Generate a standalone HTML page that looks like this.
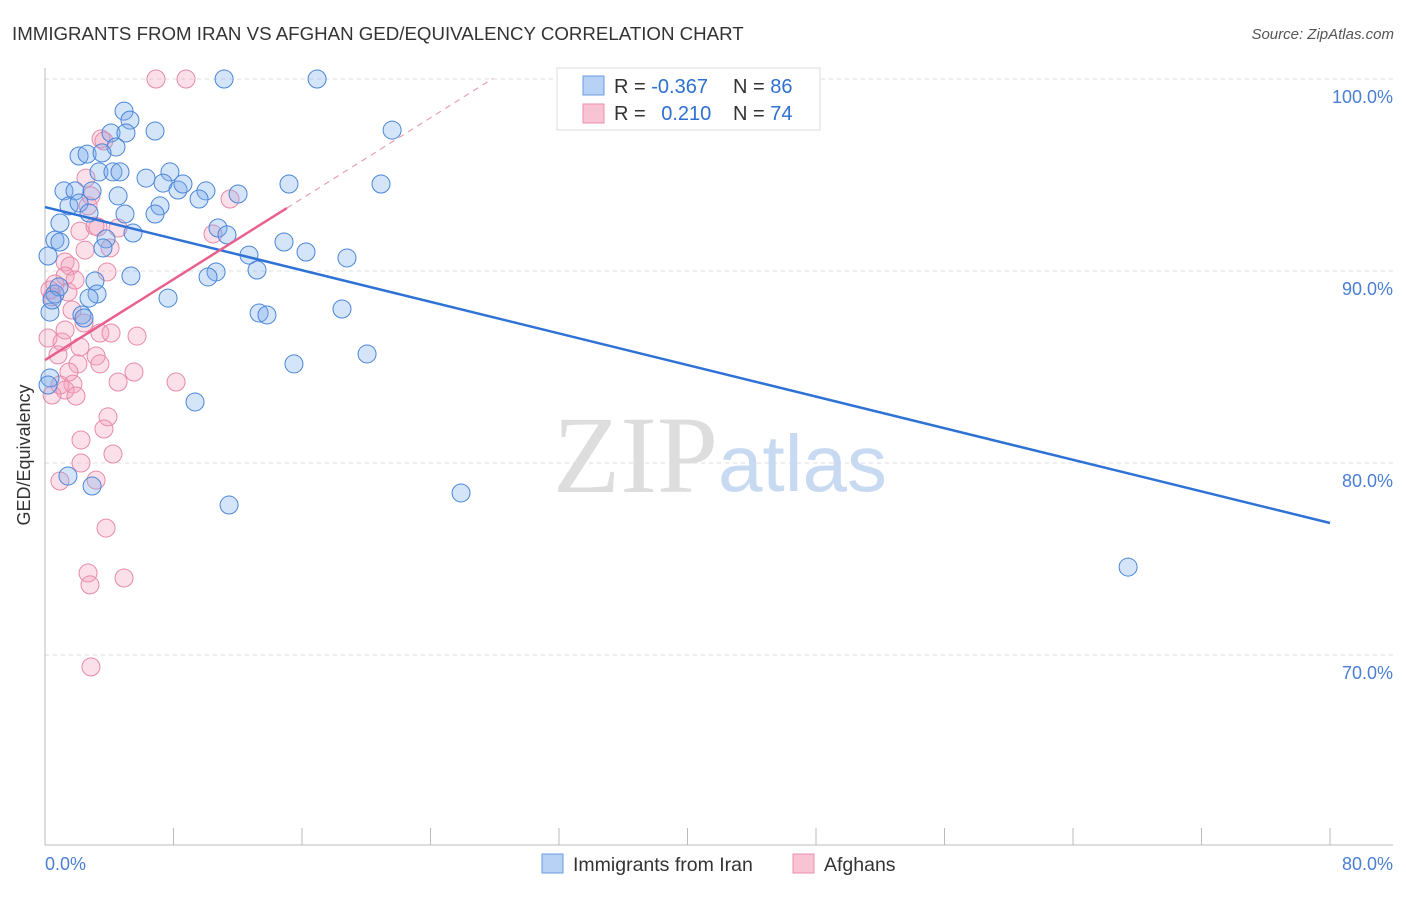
<!DOCTYPE html>
<html><head><meta charset="utf-8"><style>
body{margin:0;background:#fff;font-family:"Liberation Sans",sans-serif}
svg text{font-family:"Liberation Sans",sans-serif}
</style></head><body>
<svg id="chart" width="1406" height="892">
<text x="12" y="40" font-size="18.7" fill="#333">IMMIGRANTS FROM IRAN VS AFGHAN GED/EQUIVALENCY CORRELATION CHART</text>
<text x="1394" y="39" font-size="15" fill="#555" font-style="italic" text-anchor="end">Source: ZipAtlas.com</text>
<g id="grid"></g>
<text x="553" y="492" font-size="110" fill="#ddd" style="font-family:'Liberation Serif',serif">ZIP</text>
<text x="718" y="491" font-size="80" fill="#c8daf2">atlas</text>
<g id="pts"></g>
<g id="trends"></g>
<text x="30" y="455" font-size="18" fill="#333" text-anchor="middle" transform="rotate(-90 30 455)">GED/Equivalency</text>
<text x="45" y="870" font-size="18" fill="#4a7fd4">0.0%</text>
<text x="1393" y="870" font-size="18" fill="#4a7fd4" text-anchor="end">80.0%</text>
<g>
<rect x="557" y="68" width="263" height="62" fill="#fff" stroke="#ddd"/>
<rect x="583" y="76" width="21" height="19" fill="#b8d2f5" stroke="#6a9be0"/>
<rect x="583" y="104" width="21" height="19" fill="#f8c4d4" stroke="#eb8fac"/>
<text x="614" y="93" font-size="20" fill="#333">R = <tspan fill="#2f6fd1">-0.367</tspan></text>
<text x="733" y="93" font-size="20" fill="#333">N = <tspan fill="#2f6fd1">86</tspan></text>
<text x="614" y="120" font-size="20" fill="#333">R = <tspan fill="#2f6fd1" dx="10">0.210</tspan></text>
<text x="733" y="120" font-size="20" fill="#333">N = <tspan fill="#2f6fd1">74</tspan></text>
</g>
<g>
<rect x="542" y="854" width="21" height="19" fill="#b8d2f5" stroke="#6a9be0"/>
<text x="573" y="871" font-size="19.5" fill="#333">Immigrants from Iran</text>
<rect x="793" y="854" width="21" height="19" fill="#f8c4d4" stroke="#eb8fac"/>
<text x="824" y="871" font-size="19.5" fill="#333">Afghans</text>
</g>
</svg>
<script>
const yTicks=[100,90,80,70];
const xTicks=[0,8,16,24,32,40,48,56,64,72,80];
const blueX=[11.15,16.94,4.92,5.29,4.11,5.04,6.85,21.61,4.42,2.12,2.62,3.55,3.36,4.23,4.67,6.29,7.78,7.35,8.28,8.59,10.02,9.59,12.02,15.19,20.92,1.18,1.87,2.93,4.55,1.49,2.12,2.74,7.16,6.85,4.98,10.77,11.33,5.48,3.80,0.93,0.62,0.93,3.61,12.70,14.88,16.25,18.80,5.35,10.65,10.15,13.20,3.11,3.24,2.74,7.66,0.62,0.31,2.30,2.43,13.33,13.82,18.49,20.05,15.50,9.34,0.31,0.19,1.43,2.93,11.46,25.90,67.43,0.19,0.87,0.44];
const blueY=[100,100,98.33,97.86,97.19,97.19,97.29,97.34,96.46,95.99,96.09,96.15,95.16,95.16,95.16,94.84,95.16,94.58,94.22,94.53,94.17,93.75,94.01,94.53,94.53,94.17,94.17,94.17,93.91,93.39,93.54,93.02,93.39,92.97,92.97,92.24,91.88,91.98,91.67,92.50,91.61,91.51,91.20,90.83,91.51,90.99,90.68,89.74,89.95,89.69,90.05,89.48,88.80,88.59,88.59,88.80,87.86,87.71,87.55,87.81,87.71,88.02,85.68,85.16,83.18,84.43,84.06,79.32,78.80,77.81,78.44,74.58,90.78,89.17,88.49];
const pinkX=[6.91,8.78,3.49,3.67,2.55,2.86,2.68,11.52,10.46,2.18,3.30,3.11,4.55,1.25,1.56,1.25,3.86,0.62,1.43,0.44,1.68,2.43,3.42,4.11,5.73,0.19,1.06,2.18,3.18,0.81,2.05,3.42,1.49,1.74,4.55,5.54,8.16,0.93,1.25,1.93,3.92,3.67,2.24,2.24,4.23,0.93,3.18,3.80,2.68,2.80,4.92,2.86,0.31,1.87,4.05,2.49,1.25,0.44];
const pinkY=[100,100,96.88,96.77,94.84,93.91,93.39,93.75,91.93,92.08,92.29,92.34,92.24,90.47,90.26,89.74,89.95,89.32,88.91,88.65,87.97,87.29,86.77,86.77,86.61,86.51,86.30,86.04,85.57,85.63,85.16,85.16,84.74,84.11,84.22,84.74,84.22,84.06,83.80,83.49,82.40,81.77,81.20,80.00,80.47,79.06,79.11,76.61,74.27,73.65,74.01,69.38,89.01,89.53,91.20,91.09,86.93,83.54];
const blueTrend=[93.33,76.875];
const pinkTrend=[85.36,93.28,15.06,27.9];
const sx=v=>45+v*1285/80, sy=v=>79+(100-v)*19.2;
const NS='http://www.w3.org/2000/svg';
const grid=document.getElementById('grid');
function mk(tag,attrs,parent){const e=document.createElementNS(NS,tag);for(const k in attrs)e.setAttribute(k,attrs[k]);parent.appendChild(e);return e;}
yTicks.forEach(t=>{
 const l=mk('line',{x1:45,x2:1393,y1:sy(t),y2:sy(t),stroke:'#ddd','stroke-dasharray':'4,4'},grid);
 
 
 const tx=mk('text',{x:1393,y:sy(t)+24,'font-size':18,fill:'#4a7fd4','text-anchor':'end'},grid);
 tx.textContent=t.toFixed(1)+'%';
 
 
});
mk('line',{x1:45,x2:45,y1:68,y2:845,stroke:'#bbb'},grid);
mk('line',{x1:45,x2:1393,y1:845,y2:845,stroke:'#bbb'},grid);
xTicks.forEach(t=>{const l=mk('line',{x1:sx(t),x2:sx(t),y1:828,y2:845,stroke:'#bbb'},grid);
 
 });
const pts=document.getElementById('pts');
pinkX.forEach((x,i)=>{const c=mk('circle',{cx:sx(x),cy:sy(pinkY[i]),r:9,fill:'rgba(244,160,186,0.32)',stroke:'#e88aa8','stroke-width':1},pts);
 
 });
blueX.forEach((x,i)=>{const c=mk('circle',{cx:sx(x),cy:sy(blueY[i]),r:9,fill:'rgba(120,170,235,0.32)',stroke:'#4a86d8','stroke-width':1},pts);
 
 });
const tr=document.getElementById('trends');
const b=mk('line',{x1:sx(0),y1:sy(blueTrend[0]),x2:sx(80),y2:sy(blueTrend[1]),stroke:'#2f72d6','stroke-width':2.5},tr);


const slope=(pinkTrend[1]-pinkTrend[0])/pinkTrend[2];
const p=mk('line',{x1:sx(0),y1:sy(pinkTrend[0]),x2:sx(pinkTrend[2]),y2:sy(pinkTrend[1]),stroke:'#e8608c','stroke-width':2.5},tr);


const pd=mk('line',{x1:sx(pinkTrend[2]),y1:sy(pinkTrend[1]),x2:sx(pinkTrend[3]),y2:sy(pinkTrend[0]+slope*pinkTrend[3]),stroke:'#eaa0b8','stroke-width':1.2,'stroke-dasharray':'6,5'},tr);


</script>
</body></html>
